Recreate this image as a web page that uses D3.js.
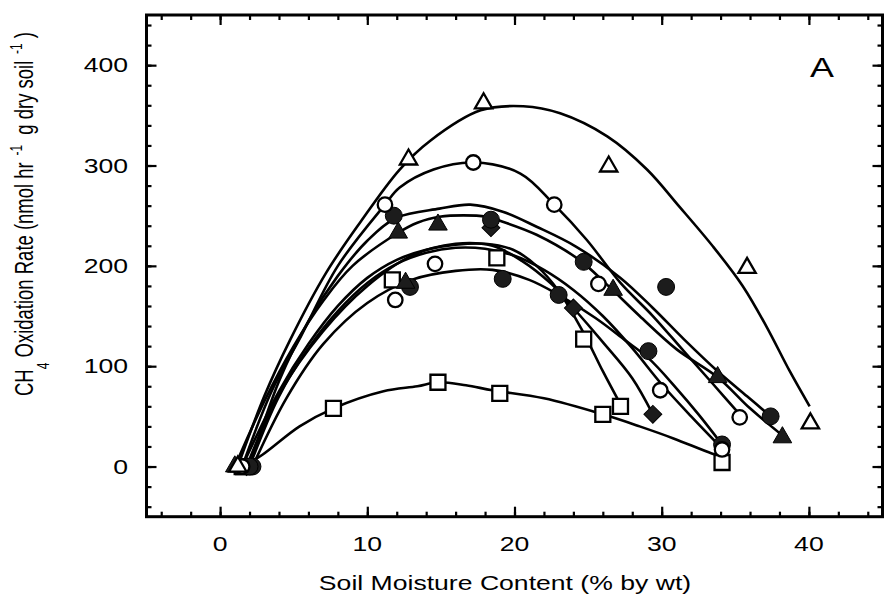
<!DOCTYPE html>
<html>
<head>
<meta charset="utf-8">
<script src="https://cdn.jsdelivr.net/npm/d3@7"></script>
<style>
  html, body { margin: 0; padding: 0; background: #fff; }
  svg { display: block; }
  text { font-family: "Liberation Sans", Arial, Helvetica, sans-serif; fill: #000; }
</style>
</head>
<body>
<svg id="chart" width="886" height="602"></svg>
<script>
// Axis ticks and labels
const xTickValues = [0, 10, 20, 30, 40];
const yTickValues = [0, 100, 200, 300, 400];
const xMinorTicks = [-4, -2, 0, 2, 4, 6, 8, 10, 12, 14, 16, 18, 20, 22, 24, 26, 28, 30, 32, 34, 36, 38, 40, 42, 44];
const yMinorTicks = [-40, -20, 0, 20, 40, 60, 80, 100, 120, 140, 160, 180, 200, 220, 240, 260, 280, 300, 320, 340, 360, 380, 400, 420, 440];
const xTitle = "Soil Moisture Content (% by wt)";
const panelLabel = "A";

// Measured oxidation rates: [soil moisture %, nmol hr-1 g-1]
const openTriangle      = [[1.2, 0], [12.8, 306], [17.9, 362], [26.4, 299], [35.8, 198], [40.1, 43]];
const openCircleHigh    = [[1.5, 0], [11.2, 261], [17.2, 303], [22.7, 261], [25.7, 182], [35.3, 49]];
const filledCircleHigh  = [[2.0, 0], [11.8, 250], [18.4, 246], [24.7, 204], [30.3, 179], [37.4, 50]];
const filledTriangle    = [[1.0, 0], [12.1, 233], [14.8, 241], [26.7, 176], [33.8, 89], [38.2, 29]];
const filledDiamond     = [[1.8, 0], [18.4, 238], [24.0, 158], [29.4, 52]];
const filledTriangleLow = [[1.3, 0], [12.6, 183]];
const openCircleLow     = [[2.0, 0], [11.9, 166], [14.6, 202], [29.9, 76], [34.1, 17]];
const openSquareHigh    = [[1.5, 0], [11.7, 186], [18.8, 208], [24.7, 127], [27.2, 60]];
const filledCircleLow   = [[2.2, 0], [12.9, 179], [19.2, 187], [23.0, 171], [29.1, 115], [34.1, 22]];
const openSquareLow     = [[1.6, 0], [7.7, 58], [14.8, 84], [19.0, 73], [26.0, 52], [34.1, 4]];

// Fitted response curves, traced point by point
const openTriangleFit     = [[1.2, 0], [3, 70], [4.75, 126], [7.2, 193], [9.5, 243], [12.2, 296], [14.3, 325], [17.7, 355], [20.6, 359], [23.1, 352], [26.3, 329], [29, 296], [31.2, 259], [33.5, 219], [35.5, 180], [37.1, 140], [38.7, 95], [40.05, 60]];
const openCircleHighFit   = [[1.5, 0], [3.5, 75], [5.5, 130], [8, 200], [11.2, 261], [12.2, 278], [14.5, 296], [17.2, 303], [20.4, 292], [22.7, 261], [24.9, 226], [27.2, 183], [29.4, 150], [31.5, 115], [33.5, 82], [35.3, 52]];
const filledCircleHighFit = [[2, 0], [4, 85], [6, 145], [8, 190], [10, 225], [12, 248], [14.9, 257], [17, 261], [19.2, 254], [21.5, 239], [24.2, 219], [27.2, 188], [29.4, 158], [31.5, 127], [33.8, 95], [35.8, 70], [37.4, 50]];
const filledTriangleFit   = [[1, 0], [3, 65], [5, 120], [7, 165], [9, 200], [12.1, 233], [13.4, 243], [14.9, 249], [18.1, 249], [19.2, 244], [21.5, 231], [24.4, 206], [26.3, 181], [28.5, 150], [31, 117], [33.8, 89], [36, 58], [38.2, 31]];
const filledDiamondFit    = [[1.8, 0], [4, 72], [7, 135], [10, 180], [13, 210], [16, 222], [18.5, 220], [20.5, 205], [22.5, 182], [24, 158], [26, 124], [28, 88], [29.4, 52]];
const openCircleLowFit    = [[2, 0], [4, 70], [6, 118], [8, 155], [10, 183], [12, 202], [14, 213], [16, 218], [18, 217], [20, 210], [22, 196], [24, 176], [26, 150], [28, 118], [30, 82], [32, 50], [34.1, 18]];
const openSquareHighFit   = [[1.5, 0], [4, 75], [6, 122], [8, 160], [10, 188], [12, 206], [14, 216], [16, 221], [18, 222], [19.9, 216], [21.5, 200], [23, 175], [24.7, 133], [26, 95], [27.2, 62]];
const filledCircleLowFit  = [[2.2, 0], [4.5, 68], [7, 122], [10, 163], [13, 186], [16, 195], [18.5, 196], [21, 186], [23, 171], [25.5, 148], [27.5, 126], [29.1, 108], [31, 78], [32.5, 52], [34.1, 22]];
const openSquareLowFit    = [[1.6, 0], [2.9, 12], [5.4, 40], [7.7, 58], [11.1, 75], [13.4, 80], [14.8, 84], [16.7, 81], [18.5, 76], [22, 68], [26, 52], [28.5, 40], [30.8, 28], [33.4, 13], [34.1, 10]];

const series = [
  { pts: openSquareLow,     fit: openSquareLowFit,     shape: "square",   filled: false },
  { pts: filledCircleLow,   fit: filledCircleLowFit,   shape: "circle",   filled: true  },
  { pts: openSquareHigh,    fit: openSquareHighFit,    shape: "square",   filled: false },
  { pts: openCircleLow,     fit: openCircleLowFit,     shape: "circle",   filled: false },
  { pts: filledTriangleLow, fit: null,                 shape: "triangle", filled: true  },
  { pts: filledDiamond,     fit: filledDiamondFit,     shape: "diamond",  filled: true  },
  { pts: filledTriangle,    fit: filledTriangleFit,    shape: "triangle", filled: true  },
  { pts: filledCircleHigh,  fit: filledCircleHighFit,  shape: "circle",   filled: true  },
  { pts: openCircleHigh,    fit: openCircleHighFit,    shape: "circle",   filled: false },
  { pts: openTriangle,      fit: openTriangleFit,      shape: "triangle", filled: false }
];

const svg = d3.select("#chart");
const stretch = 1.33;          // wide letterforms
const ink = "#000";
const fillInk = "#1c1c1c";

const x = d3.scaleLinear().domain([-5, 45]).range([146.5, 882.5]);
const y = d3.scaleLinear().domain([-50, 450]).range([516.7, 15]);

// Tick marks on all four sides, pointing inward
function ticks(axisFn, scale, values, size, transform) {
  const g = svg.append("g")
    .attr("transform", transform)
    .call(axisFn(scale).tickValues(values).tickSize(size).tickFormat(""));
  g.select(".domain").remove();
  g.selectAll("line").attr("stroke", ink).attr("stroke-width", 2.2);
}
const x0 = x.range()[0], x1 = x.range()[1];
const y0 = y.range()[0], y1 = y.range()[1];
ticks(d3.axisBottom, x, xMinorTicks, -5, `translate(0,${y0})`);
ticks(d3.axisBottom, x, xTickValues, -10, `translate(0,${y0})`);
ticks(d3.axisTop, x, xMinorTicks, -5, `translate(0,${y1})`);
ticks(d3.axisTop, x, xTickValues, -10, `translate(0,${y1})`);
ticks(d3.axisLeft, y, yMinorTicks, -5, `translate(${x0},0)`);
ticks(d3.axisLeft, y, yTickValues, -10, `translate(${x0},0)`);
ticks(d3.axisRight, y, yMinorTicks, -5, `translate(${x1},0)`);
ticks(d3.axisRight, y, yTickValues, -10, `translate(${x1},0)`);

// Plot frame
svg.append("rect")
  .attr("x", x0).attr("y", y1)
  .attr("width", x1 - x0).attr("height", y0 - y1)
  .attr("fill", "none").attr("stroke", ink).attr("stroke-width", 3);

// Tick labels
svg.append("g").selectAll("text").data(xTickValues).join("text")
  .attr("transform", d => `translate(${x(d)},551) scale(${stretch},1)`)
  .attr("text-anchor", "middle").attr("font-size", 20)
  .text(d => d);
svg.append("g").selectAll("text").data(yTickValues).join("text")
  .attr("transform", d => `translate(128,${y(d) + 7}) scale(${stretch},1)`)
  .attr("text-anchor", "end").attr("font-size", 20)
  .text(d => d);

// Axis titles
svg.append("text")
  .attr("transform", `translate(505,590) scale(${stretch},1)`)
  .attr("text-anchor", "middle").attr("font-size", 20)
  .text(xTitle);

const yt = svg.append("text")
  .attr("transform", `translate(33,396) scale(1.42,1) rotate(-90)`)
  .attr("font-size", 18.5)
  .style("white-space", "pre");
yt.append("tspan").text("CH");
yt.append("tspan").attr("font-size", 12).attr("dy", 11).text("4");
yt.append("tspan").attr("dy", -11).text(" Oxidation Rate (nmol hr");
yt.append("tspan").attr("font-size", 12).attr("dy", -8).text("  -1");
yt.append("tspan").attr("dy", 8).text("  g dry soil");
yt.append("tspan").attr("font-size", 12).attr("dy", -8).text("  -1");
yt.append("tspan").attr("dy", 8).text(" )");

// Panel letter
svg.append("text")
  .attr("transform", `translate(822,77) scale(${stretch},1)`)
  .attr("text-anchor", "middle").attr("font-size", 27)
  .text(panelLabel);

// Fitted curves
const line = d3.line()
  .x(d => x(d[0])).y(d => y(d[1]))
  .curve(d3.curveCatmullRom.alpha(0.5));

const plot = svg.append("g");
plot.selectAll("path.fit").data(series.filter(s => s.fit)).join("path")
  .attr("class", "fit")
  .attr("d", s => line(s.fit))
  .attr("fill", "none").attr("stroke", ink)
  .attr("stroke-width", 2.6).attr("stroke-linejoin", "round");

// Markers
const symbolFor = {
  circle:   { type: d3.symbolCircle,   open: 165, filled: 225, rot: 0 },
  square:   { type: d3.symbolSquare,   open: 225, filled: 225, rot: 0 },
  triangle: { type: d3.symbolTriangle, open: 130, filled: 150, rot: 0 },
  diamond:  { type: d3.symbolSquare,   open: 160, filled: 160, rot: 45 }
};
series.forEach(s => {
  const sym = symbolFor[s.shape];
  const gen = d3.symbol().type(sym.type).size(s.filled ? sym.filled : sym.open);
  plot.append("g").selectAll("path").data(s.pts).join("path")
    .attr("d", gen)
    .attr("transform", d => `translate(${x(d[0])},${y(d[1])}) rotate(${sym.rot})`)
    .attr("fill", s.filled ? fillInk : "#fff")
    .attr("stroke", ink)
    .attr("stroke-width", s.filled ? 1 : 2.3);
});
</script>
</body>
</html>
